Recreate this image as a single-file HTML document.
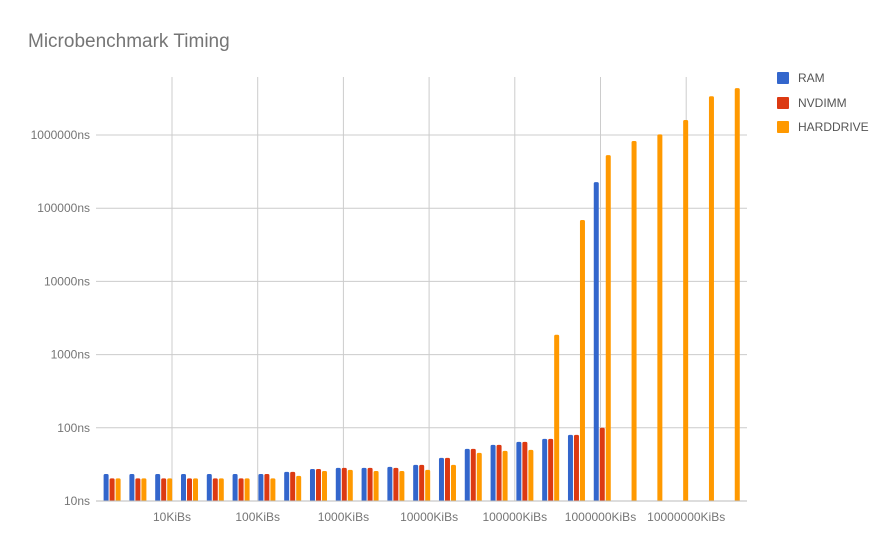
<!DOCTYPE html>
<html><head><meta charset="utf-8"><style>
body{margin:0;background:#fff;font-family:"Liberation Sans",Arial,sans-serif}
svg text{font-family:"Liberation Sans",Arial,sans-serif}
</style></head><body>
<svg id="c" width="890" height="550">
<text x="28" y="47" font-size="19" fill="#757575">Microbenchmark Timing</text>
<g id="grid"></g><g id="bars"></g><g id="axes"></g>
<g>
<rect x="777" y="72" width="12" height="12" rx="1" fill="#3366cc"/>
<text x="798" y="82" font-size="12" fill="#555">RAM</text>
<rect x="777" y="97" width="12" height="12" rx="1" fill="#dc3912"/>
<text x="798" y="107" font-size="12" fill="#555">NVDIMM</text>
<rect x="777" y="121" width="12" height="12" rx="1" fill="#ff9900"/>
<text x="798" y="131" font-size="12" fill="#555">HARDDRIVE</text>
</g>
</svg>
<script>
const sizesKiB=[2,4,8,16,32,64,128,256,512,1024,2048,4096,8192,16384,32768,65536,131072,262144,524288,1048576,2097152,4194304,8388608,16777216,33554432];
const ram=[23.4,23.4,23.4,23.4,23.4,23.4,23.4,25,27.4,28.3,28.3,29.2,31.1,38.8,51.5,58.5,64.3,70.7,80,227000];
const nvdimm=[20.4,20.4,20.4,20.4,20.4,20.4,23.4,25,27.4,28.3,28.3,28.3,31.1,38.8,51.5,58.5,64.3,70.7,80,100];
const harddrive=[20.4,20.4,20.4,20.4,20.4,20.4,20.4,22,25.7,26.6,25.7,25.7,26.6,31.1,45.4,48.4,50,1870,69000,532000,828000,1020000,1600000,3390000,4370000];
const yTicks=[10,100,1000,10000,100000,1000000];
const yTickLabels=["10ns","100ns","1000ns","10000ns","100000ns","1000000ns"];
const xTicks=[10,100,1000,10000,100000,1000000,10000000];
const xTickLabels=["10KiBs","100KiBs","1000KiBs","10000KiBs","100000KiBs","1000000KiBs","10000000KiBs"];
const NS="http://www.w3.org/2000/svg";
const L=96,R=747,B=501,T=77;
function xs(k){return 172+85.7*Math.log10(k/10);}
function ys(v){return 501-73.2*Math.log10(v/10);}
function mk(t,a,p){const e=document.createElementNS(NS,t);for(const k in a)e.setAttribute(k,a[k]);document.getElementById(p).appendChild(e);return e;}
yTicks.forEach((v,i)=>{const y=ys(v);
 if(i>0){const l=mk('line',{x1:L,x2:R,y1:y,y2:y,stroke:'#ccc'},'grid');
 
 }
 const t=mk('text',{x:90,y:y+4,'font-size':12,fill:'#757575','text-anchor':'end'},'axes');t.textContent=yTickLabels[i];
 
 });
xTicks.forEach((v,i)=>{const x=xs(v);
 const l=mk('line',{x1:x,x2:x,y1:T,y2:B,stroke:'#ccc'},'grid');
 
 
 const t=mk('text',{x:x,y:521,'font-size':12,fill:'#757575','text-anchor':'middle'},'axes');t.textContent=xTickLabels[i];
 
 });
const base=mk('line',{x1:L,x2:R,y1:B,y2:B,stroke:'#bbb'},'axes');


const series=[[ram,'#3366cc',-6,'ram'],[nvdimm,'#dc3912',0,'nvdimm'],[harddrive,'#ff9900',6,'harddrive']];
series.forEach(([arr,col,off,nm])=>{arr.forEach((v,i)=>{const x=xs(sizesKiB[i])+off-2.5,y=ys(v);
 const p=mk('path',{d:`M${x},${B}V${y+1.5}Q${x},${y} ${x+1.5},${y}H${x+3.5}Q${x+5},${y} ${x+5},${y+1.5}V${B}Z`,fill:col},'bars');
 
 });});
</script>
</body></html>
